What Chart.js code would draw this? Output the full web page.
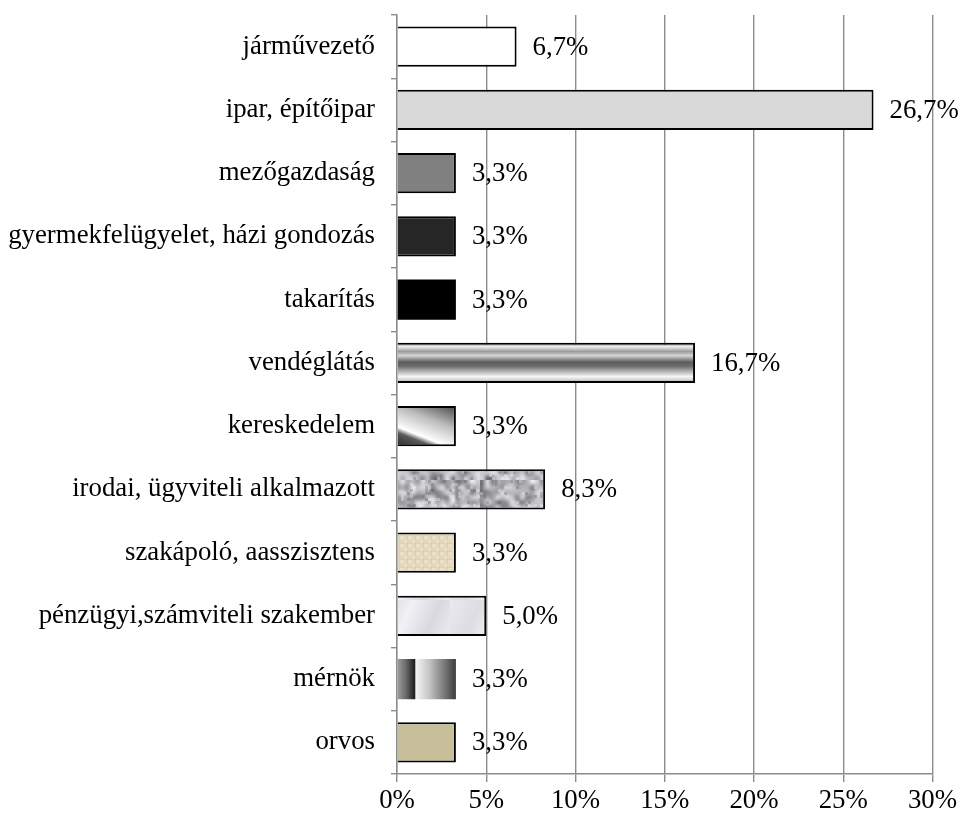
<!DOCTYPE html>
<html>
<head>
<meta charset="utf-8">
<script src="https://cdn.jsdelivr.net/npm/chart.js@4"></script>
<style>
  html, body { margin: 0; padding: 0; background: #fff; }
  #wrap { width: 960px; height: 817px; }
</style>
</head>
<body>
<div id="wrap"><canvas id="chart" width="960" height="817"></canvas></div>
<script>
// foglalkozások megoszlása
const categories = [
  "járművezető",
  "ipar, építőipar",
  "mezőgazdaság",
  "gyermekfelügyelet, házi gondozás",
  "takarítás",
  "vendéglátás",
  "kereskedelem",
  "irodai, ügyviteli alkalmazott",
  "szakápoló, aasszisztens",
  "pénzügyi,számviteli szakember",
  "mérnök",
  "orvos"
];
const values = [6.7, 26.7, 3.3, 3.3, 3.3, 16.7, 3.3, 8.3, 3.3, 5.0, 3.3, 3.3];
const xTicks = [0, 5, 10, 15, 20, 25, 30];

const FONT = "'Liberation Serif', 'Times New Roman', serif";
const FONT_SIZE = 26.8;
const BAR_PCT = 0.64;

// textúrák (nem adatok)
function hash(i, j) {
  const s = Math.sin(i * 12.9898 + j * 78.233) * 43758.5453;
  return s - Math.floor(s);
}

function makeGranite() {
  const small = document.createElement("canvas");
  small.width = 32; small.height = 12;
  const sc = small.getContext("2d");
  for (let i = 0; i < 32; i++) {
    for (let j = 0; j < 12; j++) {
      const v = Math.round(120 + hash(i, j) * 110);
      sc.fillStyle = `rgb(${v},${v},${v + 5})`;
      sc.fillRect(i, j, 1, 1);
    }
  }
  const c = document.createElement("canvas");
  c.width = 160; c.height = 60;
  const cc = c.getContext("2d");
  cc.imageSmoothingEnabled = true;
  cc.imageSmoothingQuality = "high";
  cc.drawImage(small, 0, 0, 160, 60);
  for (let i = 0; i < 160; i += 3) {
    for (let j = 0; j < 60; j += 3) {
      const h = hash(i + 300, j + 91);
      if (h > 0.9) {
        cc.fillStyle = "rgba(70,70,80,0.25)";
        cc.fillRect(i, j, 3, 3);
      } else if (h < 0.08) {
        cc.fillStyle = "rgba(255,255,255,0.3)";
        cc.fillRect(i, j, 3, 3);
      }
    }
  }
  return cc.createPattern(c, "repeat");
}

function makeWeave() {
  const c = document.createElement("canvas");
  c.width = 8; c.height = 8;
  const cc = c.getContext("2d");
  cc.fillStyle = "#e3d8bb";
  cc.fillRect(0, 0, 8, 8);
  cc.fillStyle = "#eae1ca";
  cc.fillRect(0, 0, 4, 3);
  cc.fillRect(4, 4, 3, 4);
  cc.fillStyle = "#dcd0b0";
  cc.fillRect(7, 0, 1, 8);
  cc.fillRect(0, 7, 8, 1);
  return cc.createPattern(c, "repeat");
}

function makeMarble() {
  const c = document.createElement("canvas");
  c.width = 90; c.height = 40;
  const cc = c.getContext("2d");
  const g = cc.createLinearGradient(0, 0, 90, 40);
  g.addColorStop(0, "#e9e9ee");
  g.addColorStop(0.3, "#dcdce2");
  g.addColorStop(0.5, "#f2f2f5");
  g.addColorStop(0.75, "#d8d8de");
  g.addColorStop(1, "#ececf0");
  cc.fillStyle = g;
  cc.fillRect(0, 0, 90, 40);
  return cc.createPattern(c, "repeat");
}

const ctx = document.getElementById("chart").getContext("2d");
const granite = makeGranite();
const weave = makeWeave();
const marble = makeMarble();

function barBox(chart, i) {
  const xs = chart.scales.x, ys = chart.scales.y;
  const band = ys.height / categories.length;
  const yc = ys.getPixelForValue(i);
  const h = band * BAR_PCT;
  return {
    x0: xs.getPixelForValue(0),
    x1: xs.getPixelForValue(values[i]),
    y0: yc - h / 2,
    y1: yc + h / 2
  };
}

function fillFor(c) {
  const chart = c.chart;
  const i = c.dataIndex;
  const solid = ["#ffffff", "#d9d9d9", "#808080", "#262626", "#000000"];
  if (i < 5) return solid[i];
  if (i === 11) return "#c6bf9a";
  if (i === 7) return granite;
  if (i === 8) return weave;
  if (i === 9) return marble;
  if (!chart.scales || !chart.scales.y || !chart.chartArea) return "#999";
  const b = barBox(chart, i);
  const g2 = chart.ctx;
  if (i === 5) {
    const g = g2.createLinearGradient(0, b.y0, 0, b.y1);
    g.addColorStop(0, "#8a8a8a");
    g.addColorStop(0.1, "#efefef");
    g.addColorStop(0.22, "#9a9a9a");
    g.addColorStop(0.32, "#d6d6d6");
    g.addColorStop(0.48, "#5c5c5c");
    g.addColorStop(0.58, "#6a6a6a");
    g.addColorStop(0.72, "#b8b8b8");
    g.addColorStop(0.84, "#f7f7f7");
    g.addColorStop(0.93, "#cfcfcf");
    g.addColorStop(1, "#6a6a6a");
    return g;
  }
  if (i === 6) {
    // átlós csík: bal alsó saroktól a jobb felső felé
    const w = b.x1 - b.x0, h = b.y1 - b.y0;
    const ux = 0.365, uy = -0.931;
    const len = w * ux - h * uy;
    const g = g2.createLinearGradient(b.x0, b.y1, b.x0 + ux * len, b.y1 + uy * len);
    g.addColorStop(0, "#2a2a2a");
    g.addColorStop(0.22, "#5a5a5a");
    g.addColorStop(0.31, "#ffffff");
    g.addColorStop(0.45, "#e2e2e2");
    g.addColorStop(0.63, "#bdbdbd");
    g.addColorStop(1, "#444444");
    return g;
  }
  if (i === 10) {
    const g = g2.createLinearGradient(b.x0, 0, b.x1, 0);
    g.addColorStop(0, "#a0a0a0");
    g.addColorStop(0.15, "#6a6a6a");
    g.addColorStop(0.3, "#1e1e1e");
    g.addColorStop(0.32, "#f4f4f4");
    g.addColorStop(0.55, "#c4c4c4");
    g.addColorStop(0.8, "#7a7a7a");
    g.addColorStop(1, "#3c3c3c");
    return g;
  }
  return "#999";
}

// százalék címkék a sávok mellett
const valueLabels = {
  id: "valueLabels",
  afterDatasetsDraw(chart) {
    const c = chart.ctx;
    const meta = chart.getDatasetMeta(0);
    c.save();
    c.font = FONT_SIZE + "px " + FONT;
    c.fillStyle = "#000";
    c.textBaseline = "middle";
    c.textAlign = "left";
    meta.data.forEach((el, i) => {
      c.fillText(values[i].toFixed(1).replace(".", ",") + "%", el.x + 16, el.y + 1);
    });
    c.restore();
  }
};

new Chart(ctx, {
  type: "bar",
  data: {
    labels: categories,
    datasets: [{
      data: values,
      backgroundColor: fillFor,
      borderColor: "#000",
      borderWidth: (c) => (c.dataIndex === 10 || c.dataIndex === 4 ? 0 : 2),
      borderSkipped: "start",
      barPercentage: BAR_PCT,
      categoryPercentage: 1
    }]
  },
  options: {
    indexAxis: "y",
    responsive: false,
    animation: false,
    devicePixelRatio: 1,
    layout: { padding: { top: 15, right: 27, left: 0, bottom: 0 } },
    plugins: {
      legend: { display: false },
      tooltip: { enabled: false }
    },
    scales: {
      x: {
        min: 0,
        max: 30,
        afterBuildTicks: (s) => { s.ticks = xTicks.map(v => ({ value: v })); },
        afterFit: (s) => { s.height = 43; },
        ticks: {
          color: "#000",
          font: { family: FONT, size: FONT_SIZE },
          padding: 3,
          maxRotation: 0,
          callback: (v) => v + "%"
        },
        grid: {
          color: "#8c8c8c",
          lineWidth: 1.4,
          tickLength: 8
        },
        border: { color: "#8c8c8c", width: 1.4 }
      },
      y: {
        afterFit: (s) => { s.width = 397; s.paddingTop = 0; s.paddingBottom = 0; },
        ticks: {
          color: "#000",
          font: { family: FONT, size: FONT_SIZE },
          padding: 16
        },
        grid: {
          offset: true,
          drawOnChartArea: false,
          color: "#8c8c8c",
          lineWidth: 1.4,
          tickLength: 6
        },
        border: { color: "#8c8c8c", width: 1.4 }
      }
    }
  },
  plugins: [valueLabels]
});
</script>
</body>
</html>
